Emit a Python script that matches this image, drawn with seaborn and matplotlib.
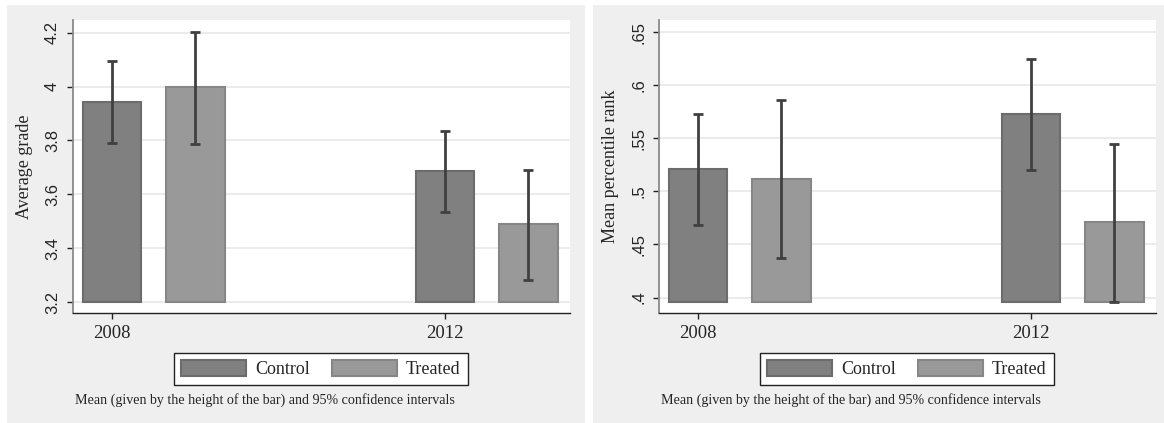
import matplotlib
matplotlib.use("Agg")
import matplotlib.pyplot as plt
from matplotlib.patches import Rectangle, Patch
import seaborn as sns
import pandas as pd

# ---------------- data ----------------
groups = ["Control", "Treated"]
years = ["2008", "2012"]

grade_mean = [3.944, 3.998, 3.688, 3.488]      # C2008, T2008, C2012, T2012
grade_lo = [3.791, 3.787, 3.533, 3.280]
grade_hi = [4.094, 4.203, 3.836, 3.691]
grade_ticks = [3.2, 3.4, 3.6, 3.8, 4.0, 4.2]
grade_ticklabels = ["3.2", "3.4", "3.6", "3.8", "4", "4.2"]

rank_mean = [0.521, 0.512, 0.573, 0.471]
rank_lo = [0.468, 0.437, 0.520, 0.396]
rank_hi = [0.573, 0.586, 0.625, 0.545]
rank_ticks = [0.40, 0.45, 0.50, 0.55, 0.60, 0.65]
rank_ticklabels = [".4", ".45", ".5", ".55", ".6", ".65"]

footnote = "Mean (given by the height of the bar) and 95% confidence intervals"

# ---------------- style ----------------
sns.set_theme(style="white")
plt.rcParams["font.family"] = ["Liberation Serif", "DejaVu Serif"]

W, H = 1164, 423
fig = plt.figure(figsize=(W / 100, H / 100), dpi=100)
fig.patch.set_facecolor("white")

PANEL = "#efefef"
C_CTRL, E_CTRL = "#808080", "#6c6c6c"
C_TRT, E_TRT = "#999999", "#868686"
ERR = "#404040"

# slots on the categorical axis (two empty slots between years)
slots = ["C2008", "T2008", "gap1", "gap2", "C2012", "T2012"]
bar_slots = ["C2008", "T2008", "C2012", "T2012"]
bar_groups = ["Control", "Treated", "Control", "Treated"]


def fx(px):
    return px / W


def fy(py):
    return 1 - py / H


def panel(x0px, means, lo, hi, base, ylim, ticks, ticklabels, ylabel):
    # gray panel background
    fig.patches.append(Rectangle((fx(x0px), 0), fx(578), fy(5), transform=fig.transFigure,
                                 facecolor=PANEL, edgecolor="none", zorder=-10))
    axl = x0px + 66
    ax = fig.add_axes([fx(axl), fy(313), fx(497), (313 - 20) / H])
    ax.set_facecolor("white")

    df = pd.DataFrame({"slot": bar_slots, "group": bar_groups,
                       "height": [m - base for m in means]})
    sns.barplot(data=df, x="slot", y="height", hue="group", order=slots,
                hue_order=groups, palette=[C_CTRL, C_TRT], dodge=False,
                width=0.70, errorbar=None, bottom=base, saturation=1,
                linewidth=1.5, ax=ax, legend=False, zorder=2)
    for p in ax.patches:
        fc = p.get_facecolor()
        p.set_edgecolor(E_CTRL if abs(fc[0] - 0.502) < 0.03 else E_TRT)

    pos = [slots.index(s) for s in bar_slots]
    yerr = [[m - l for m, l in zip(means, lo)], [h - m for m, h in zip(means, hi)]]
    ax.errorbar(pos, means, yerr=yerr, fmt="none", ecolor=ERR, elinewidth=2.0,
                capsize=3.8, capthick=2.0, zorder=4)

    ax.set_xlim(-0.47, 5.50)
    ax.set_ylim(*ylim)
    ax.set_yticks(ticks)
    ax.set_yticklabels(ticklabels, rotation=90, va="center",
                       family=["Liberation Sans", "DejaVu Sans"], fontsize=12)
    ax.set_xticks([slots.index("C2008"), slots.index("C2012")])
    ax.set_xticklabels(years, fontsize=13.5)
    ax.set_xlabel("")
    ax.set_ylabel(ylabel, fontsize=13)
    ax.yaxis.set_label_coords(-0.0805, 0.5)

    ax.grid(axis="y", color="#e6e6e6", linewidth=1.1, zorder=0)
    ax.grid(axis="x", visible=False)
    ax.set_axisbelow(True)
    for s in ["top", "right"]:
        ax.spines[s].set_visible(False)
    ax.spines["left"].set_color("#8a8a8a")
    ax.spines["left"].set_linewidth(1.3)
    ax.spines["bottom"].set_color("#222222")
    ax.spines["bottom"].set_linewidth(1.0)
    ax.tick_params(axis="y", length=4.3, width=1.0, color="#222222", pad=5,
                   left=True)
    ax.tick_params(axis="x", length=4.3, width=1.0, color="#222222", pad=4,
                   bottom=True)

    handles = [Patch(facecolor=C_CTRL, edgecolor=E_CTRL, linewidth=1.5),
               Patch(facecolor=C_TRT, edgecolor=E_TRT, linewidth=1.5)]
    leg = fig.legend(handles, groups, loc="center", ncol=2,
                     bbox_to_anchor=(fx(x0px + 314), fy(369)),
                     bbox_transform=fig.transFigure, fontsize=13,
                     frameon=True, fancybox=False, edgecolor="#222222",
                     facecolor="white", framealpha=1,
                     handlelength=3.6, handleheight=1.0, handletextpad=0.5,
                     columnspacing=1.2, borderpad=0.4, borderaxespad=0)
    leg.get_frame().set_linewidth(1.0)

    fig.text(fx(x0px + 68), fy(400), footnote, ha="left", va="center",
             fontsize=10.1)
    return ax


panel(7, grade_mean, grade_lo, grade_hi, 3.2, (3.159, 4.247),
      grade_ticks, grade_ticklabels, "Average grade")
panel(593, rank_mean, rank_lo, rank_hi, 0.3958, (0.3854, 0.6616),
      rank_ticks, rank_ticklabels, "Mean percentile rank")

fig.savefig("out.png", dpi=100, facecolor="white")
